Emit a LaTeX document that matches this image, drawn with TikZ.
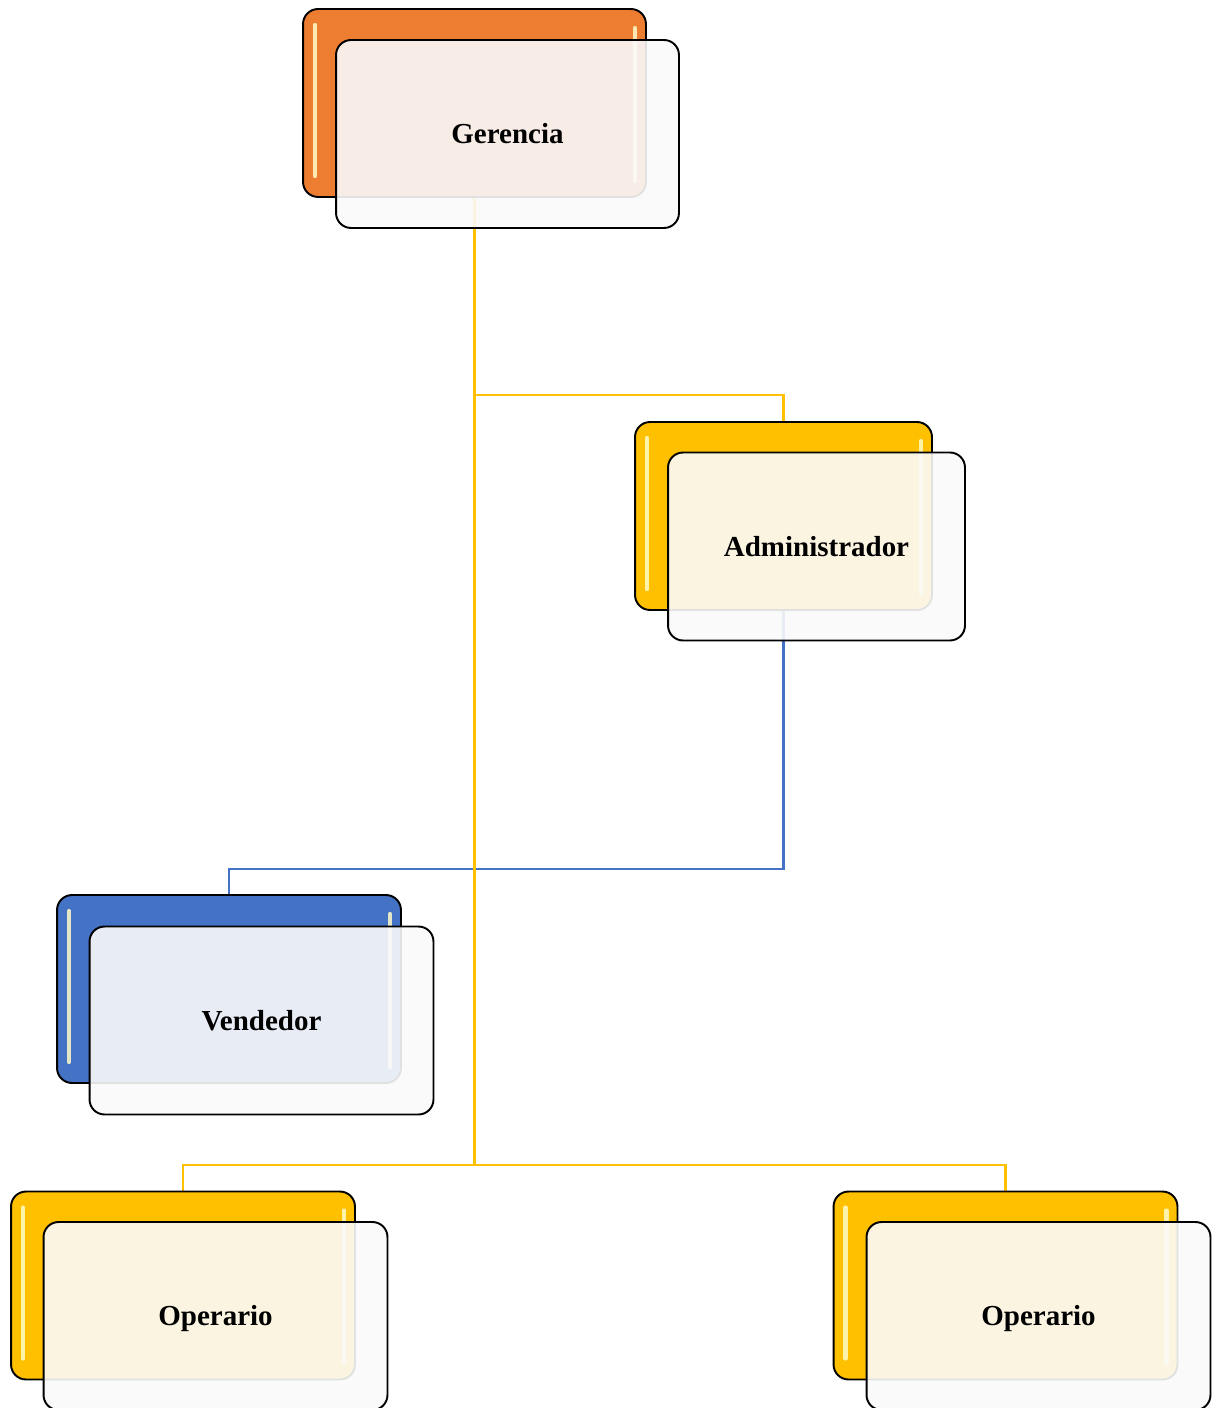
\documentclass[tikz,border=0pt]{standalone}
\usepackage{fontspec}
\setmainfont{Liberation Serif}
\usetikzlibrary{positioning, backgrounds}

\definecolor{gerorange}{RGB}{237,125,49}
\definecolor{gold}{RGB}{255,192,0}
\definecolor{steel}{RGB}{68,114,196}
\definecolor{frontfill}{RGB}{250,250,250}
\definecolor{shine}{RGB}{255,252,200}

\tikzset{
  hilite/.style={shine, opacity=.85, line width=2.4pt, line cap=round},
  back/.style={draw=black, line width=1.1pt, rounded corners=0.3cm,
    minimum height=3.76cm, inner sep=0pt,
    path picture={
      \draw[hilite]
        ([xshift=0.24cm,yshift=-0.32cm]path picture bounding box.north west) --
        ([xshift=0.24cm,yshift=0.42cm]path picture bounding box.south west);
      \draw[hilite]
        ([xshift=-0.22cm,yshift=-0.38cm]path picture bounding box.north east) --
        ([xshift=-0.22cm,yshift=0.32cm]path picture bounding box.south east);}},
  front/.style={draw=black, line width=1.1pt, rounded corners=0.3cm,
    fill=frontfill, fill opacity=0.9, text opacity=1,
    minimum height=3.76cm, inner sep=0pt, text height=11pt, text depth=0pt,
    font=\fontsize{16.5}{20}\selectfont\bfseries},
  trunk/.style={gold, line width=2.2pt},
  goldline/.style={gold, line width=1.4pt},
  blueline/.style={steel, line width=1.3pt}
}

\begin{document}
\begin{tikzpicture}[x=0.02cm, y=-0.02cm]
  \useasboundingbox (0,0) rectangle (1218,1408);

  \draw (474.5,103) node[back, fill=gerorange, minimum width=6.86cm] (g0) {};
  \draw (507.5,134) node[front, minimum width=6.86cm] (g1) {Gerencia};

  \draw (783.5,516) node[back, fill=gold, minimum width=5.94cm] (a0) {};
  \draw (816.5,546.5) node[front, minimum width=5.94cm] (a1) {Administrador};

  \draw (229,989) node[back, fill=steel, minimum width=6.88cm] (v0) {};
  \draw (261.5,1020.5) node[front, minimum width=6.88cm] (v1) {Vendedor};

  \draw (183,1285.5) node[back, fill=gold, minimum width=6.88cm] (o0) {};
  \draw (215.5,1316) node[front, minimum width=6.88cm] (o1) {Operario};

  \draw (1005.5,1285.5) node[back, fill=gold, minimum width=6.88cm] (p0) {};
  \draw (1038.5,1316) node[front, minimum width=6.88cm] (p1) {Operario};

  \coordinate (j1) at (474.5,395);
  \coordinate (j2) at (474.5,869);
  \coordinate (bus) at (474.5,1165);

  \begin{scope}[on background layer]
    \draw[blueline] (a0.south) |- (j2) -| (v0.north);
    \draw[trunk] (g0.south) -- (bus);
    \draw[goldline] (j1) -| (a0.north);
    \draw[goldline] (bus) -| (o0.north);
    \draw[goldline] (bus) -| (p0.north);
  \end{scope}

\end{tikzpicture}
\end{document}
